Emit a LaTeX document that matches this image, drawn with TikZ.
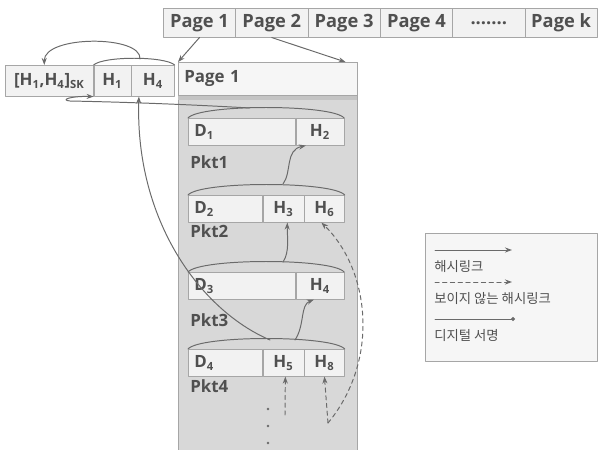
\documentclass[tikz,border=0pt]{standalone}
\usepackage{fontspec}
\setmainfont{Open Sans}
\newfontfamily\kr{Noto Sans CJK KR}
\usetikzlibrary{positioning,arrows.meta}
\definecolor{linegray}{HTML}{6A6A6A}
\definecolor{boxline}{HTML}{A6A6A6}
\definecolor{boxfill}{HTML}{F2F2F2}
\definecolor{panelfill}{HTML}{D8D8D8}
\definecolor{bandgray}{HTML}{C4C4C4}
\definecolor{legfill}{HTML}{F6F6F6}
\definecolor{textgray}{HTML}{505050}
\def\pxu{0.025cm}
\newcommand{\pagedots}{.......}

\begin{document}
\begin{tikzpicture}[x=0.025cm, y=-0.025cm, >={Stealth[length=5pt,width=3.6pt]}, line join=round, line cap=round,
	font=\bfseries\fontsize{12}{14}\selectfont,
	cell/.style={draw=boxline, fill=boxfill, text=textgray, inner sep=0pt, minimum height=29*\pxu, anchor=north west},
	pcell/.style={cell, minimum height=27*\pxu},
	dcell/.style={pcell, text width=#1, align=left, inner xsep=0.15cm},
	pktlbl/.style={text=textgray, anchor=west, inner sep=0pt},
	link/.style={color=linegray, line width=0.7pt},
	hlink/.style={link, ->},
	hidden/.style={link, ->, dashed, dash pattern=on 3pt off 2.5pt},
	legtext/.style={font=\kr\fontsize{9.5}{11}\selectfont, text=textgray, anchor=west, inner sep=0pt}]
	\useasboundingbox (0,0) rectangle (600,449);
	% pages
	\foreach \lbl [count=\i] in {Page 1,Page 2,Page 3,Page 4,\pagedots,Page k}
		\node[cell, font=\bfseries\fontsize{13}{15}\selectfont, minimum width=72.33*\pxu] (pg\i) at ({163+72.33*(\i-1)},8) {\lbl};
	% page 1 panel
	\node[draw=boxline, fill=panelfill, minimum width=179*\pxu, minimum height=395*\pxu, anchor=north west, inner sep=0pt] (page) at (178,62) {};
	\node[cell, fill=legfill, minimum width=179*\pxu, minimum height=33*\pxu, text width=167*\pxu, align=left, inner xsep=6*\pxu] (pghead) at (178,62) {Page 1};
	\fill[bandgray] (pghead.south west) rectangle ++(179,4);
	\draw[hlink] (pg1.south) -- (page.north west);
	\draw[hlink] (pg2.south) -- ([xshift=-12*\pxu]page.north east);
	% signature block
	\node[cell, minimum width=88*\pxu, minimum height=31*\pxu] (sk) at (5,65) {[H\textsubscript{1},H\textsubscript{4}]\textsubscript{SK}};
	\node[cell, minimum width=37*\pxu, minimum height=31*\pxu, right=0pt of sk] (lh1) {H\textsubscript{1}};
	\node[cell, minimum width=43*\pxu, minimum height=31*\pxu, right=0pt of lh1] (lh4) {H\textsubscript{4}};
	\draw[link] (lh1.north west) .. controls +(10,-9) and +(-10,-9) .. (lh4.north east);
	\coordinate (sigtop) at (140,59);
	\draw[hlink] (sigtop) .. controls (142,35) and (44,35) .. ([xshift=-5*\pxu]sk.north);
	% packets
	\node[dcell=2.375cm] (d1) at (188,118) {D\textsubscript{1}};
	\node[pcell, minimum width=48*\pxu, right=0pt of d1] (p1h2) {H\textsubscript{2}};
	\node[dcell=1.55cm] (d2) at (188,195) {D\textsubscript{2}};
	\node[pcell, minimum width=41*\pxu, right=0pt of d2] (p2h3) {H\textsubscript{3}};
	\node[pcell, minimum width=40*\pxu, right=0pt of p2h3] (p2h6) {H\textsubscript{6}};
	\node[dcell=2.375cm] (d3) at (188,272) {D\textsubscript{3}};
	\node[pcell, minimum width=48*\pxu, right=0pt of d3] (p3h4) {H\textsubscript{4}};
	\node[dcell=1.55cm] (d4) at (188,349) {D\textsubscript{4}};
	\node[pcell, minimum width=41*\pxu, right=0pt of d4] (p4h5) {H\textsubscript{5}};
	\node[pcell, minimum width=40*\pxu, right=0pt of p4h5] (p4h8) {H\textsubscript{8}};
	\node[pktlbl] (pkt1) at (190,162) {Pkt1};
	\node[pktlbl] (pkt2) at (190,231) {Pkt2};
	\node[pktlbl] (pkt3) at (190,320) {Pkt3};
	\node[pktlbl] (pkt4) at (190,386) {Pkt4};
	% packet arcs
	\draw[link] (d1.north west) .. controls +(12,-14) and +(-12,-14) .. (p1h2.north east);
	\draw[link] (d2.north west) .. controls +(12,-14) and +(-12,-14) .. (p2h6.north east);
	\draw[link] (d3.north west) .. controls +(12,-14) and +(-12,-14) .. (p3h4.north east);
	\draw[link] (d4.north west) .. controls +(12,-14) and +(-12,-14) .. (p4h8.north east);
	\coordinate (a1) at (250,108);
	\coordinate (a2) at (283,184);
	\coordinate (a3) at (283,262);
	\coordinate (a4) at (295,340);
	\coordinate (a4l) at (270,340);
	% hash links
	\draw[hlink] (a1) .. controls (180,104) and (120,102) .. (70,101) .. controls (60,100) and (70,96) .. (lh1.south west);
	\draw[hlink] (a2) .. controls (292,172) and (285,150) .. ([xshift=-14*\pxu]p1h2.south);
	\draw[hlink] (a3) .. controls (290,252) and (287,235) .. ([xshift=4*\pxu]p2h3.south);
	\draw[hlink] (a4) .. controls (305,325) and (300,305) .. ([xshift=-6*\pxu]p3h4.south);
	\draw[hlink] (a4l) .. controls (200,310) and (135,220) .. ([xshift=-14*\pxu]lh4.south);
	% hidden hash links
	\coordinate (lost) at (328,423);
	\coordinate (lost5) at (285,415);
	\draw[hidden] (lost) -- (p4h8.south);
	\draw[hidden] (lost) .. controls (380,360) and (370,270) .. ([xshift=-3*\pxu]p2h6.south);
	\draw[hidden] (lost5) -- ([xshift=2*\pxu]p4h5.south);
	\foreach \y in {409,426,443}
		\fill[linegray] (268,\y) circle (0.9pt);
	% legend
	\node[draw=boxline, fill=legfill, minimum width=172*\pxu, minimum height=128*\pxu, anchor=north west, inner sep=0pt] (legend) at (425,233) {};
	\coordinate (l1a) at (435,250); \coordinate (l1b) at (512,250);
	\coordinate (l2a) at (435,282); \coordinate (l2b) at (512,282);
	\coordinate (l3a) at (435,319); \coordinate (l3b) at (515,319);
	\draw[hlink] (l1a) -- (l1b);
	\draw[hidden] (l2a) -- (l2b);
	\draw[link, -{Circle[length=2.8pt]}] (l3a) -- (l3b);
	\node[legtext] (t1) at (434,266) {해시링크};
	\node[legtext] (t2) at (434,298) {보이지 않는 해시링크};
	\node[legtext] (t3) at (434,335) {디지털 서명};
\end{tikzpicture}
\end{document}
